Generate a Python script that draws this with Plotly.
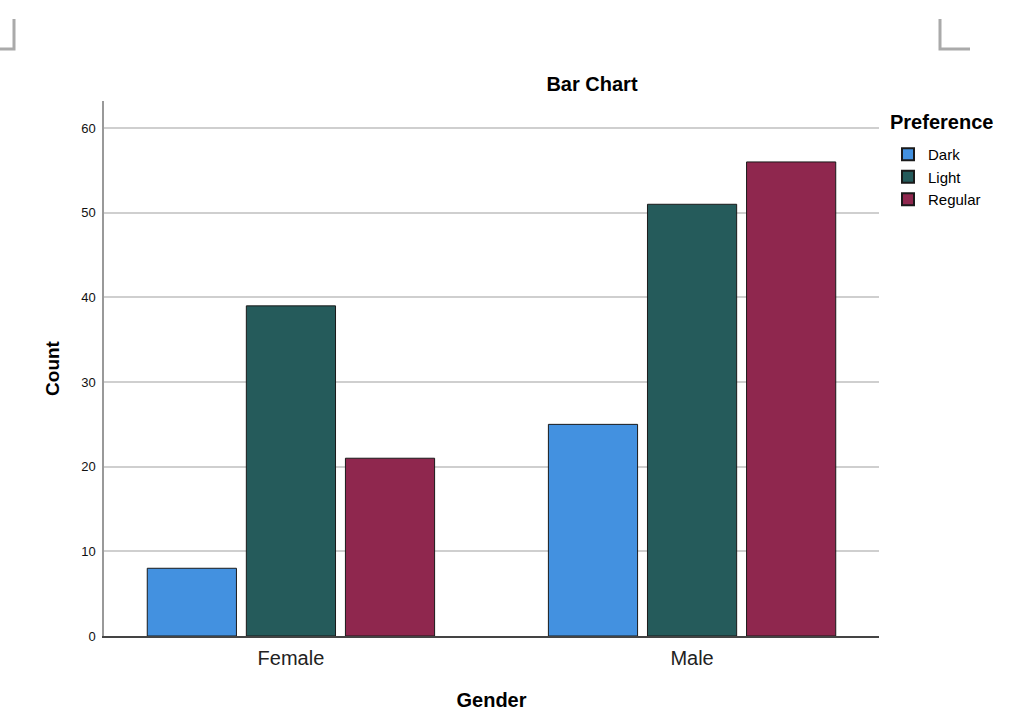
import plotly.graph_objects as go

genders = ["Female", "Male"]
preferences = ["Dark", "Light", "Regular"]
counts = {
    "Dark": [8, 25],
    "Light": [39, 51],
    "Regular": [21, 56],
}
colors = {"Dark": "#4391e0", "Light": "#255b5b", "Regular": "#8f274e"}
y_ticks = [0, 10, 20, 30, 40, 50, 60]

W, H = 1014, 722
# plot area in pixel coordinates
L, R, T, B = 104, 879, 101, 636

fig = go.Figure()
for p in preferences:
    fig.add_trace(go.Bar(
        x=genders, y=counts[p], name=p,
        marker=dict(color=colors[p], line=dict(color="#1a1a1a", width=1)),
    ))

def px(x):
    return (x - L) / (R - L)

def py(y):
    return (B - y) / (B - T)

shapes = []
for xs, ys in [([14, 14, 0], [19, 49, 49]), ([940, 940, 970], [19, 49, 49])]:
    path = "M {} {} L {} {} L {} {}".format(px(xs[0]), py(ys[0]), px(xs[1]), py(ys[1]), px(xs[2]), py(ys[2]))
    shapes.append(dict(type="path", xref="paper", yref="paper", path=path,
                       line=dict(color="#aaaaaa", width=3)))

fig.update_layout(
    width=W, height=H,
    margin=dict(l=L, r=W - R, t=T, b=H - B, autoexpand=False),
    paper_bgcolor="white", plot_bgcolor="white",
    font=dict(family="Liberation Sans, Arial, sans-serif", color="#000000"),
    barmode="group", bargap=0.259, bargroupgap=0.10,
    title=dict(text="<b>Bar Chart</b>", x=px(592), xref="paper", xanchor="center",
               y=1 - 84 / H, yanchor="middle", font=dict(size=20)),
    showlegend=True,
    legend=dict(
        x=px(888), y=py(138), xanchor="left", yanchor="top",
        font=dict(size=15), tracegroupgap=0, itemsizing="constant",
        bgcolor="rgba(0,0,0,0)",
    ),
    annotations=[dict(
        text="<b>Preference</b>", xref="paper", yref="paper",
        x=px(888), y=py(122), xanchor="left", yanchor="middle",
        showarrow=False, font=dict(size=20),
    )],
    xaxis=dict(
        type="category", range=[-0.466, 1.466],
        showline=True, linecolor="#444444", linewidth=1.5,
        showgrid=False, ticks="", tickfont=dict(size=20, color="#222222"),
        ticklabelstandoff=3,
        title=dict(text="<b>Gender</b>", font=dict(size=20), standoff=25),
    ),
    yaxis=dict(
        range=[0, 63.2], tickvals=y_ticks,
        showline=True, linecolor="#999999", linewidth=1.5,
        showgrid=True, gridcolor="#cfcfcf", gridwidth=1.5,
        ticks="", tickfont=dict(size=13, color="#111111"),
        ticklabelstandoff=4,
        zeroline=False,
        title=dict(text="<b>Count</b>", font=dict(size=19), standoff=17),
    ),
    shapes=shapes,
)

fig.write_html("out.html", config={"displayModeBar": False},
               post_script="document.body.style.margin='0px';")
